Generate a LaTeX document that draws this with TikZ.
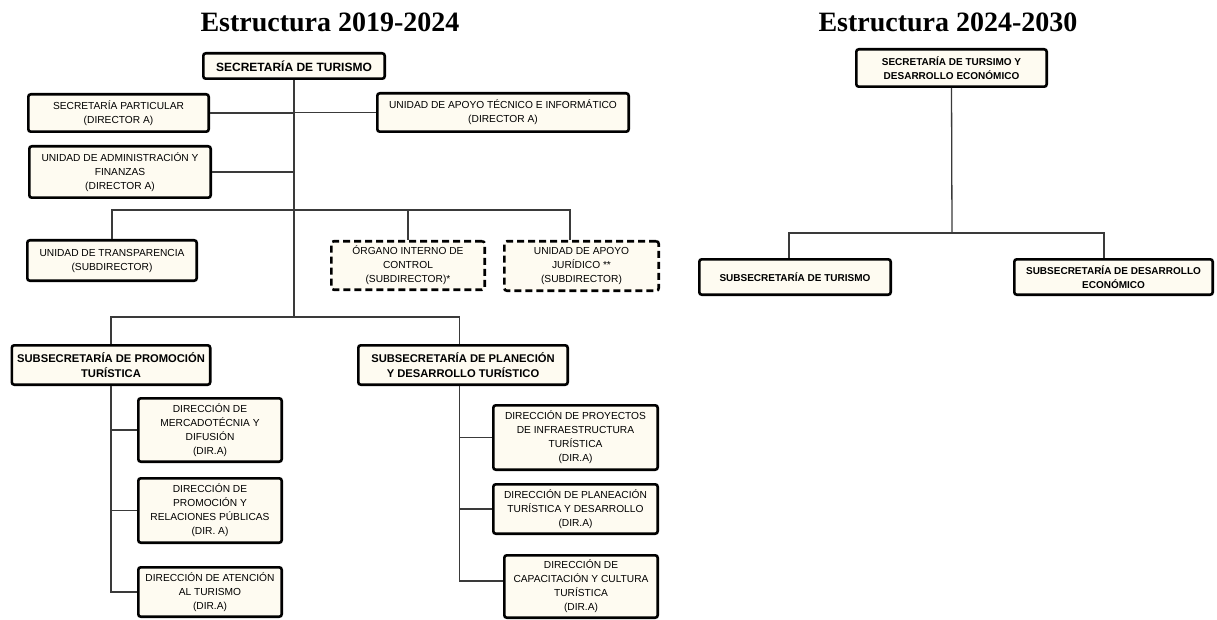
\documentclass[tikz,border=0pt]{standalone}
\usepackage{fontspec}
\setmainfont{Liberation Sans}
\newfontfamily\titlefont{Liberation Serif}
\definecolor{cream}{RGB}{254,251,241}
\definecolor{linegray}{RGB}{58,58,58}
\tikzset{
  box/.style={draw=black, line width=2.6pt, rounded corners=2.5pt, fill=cream,
    inner sep=0pt, align=center, font=\fontsize{10.2}{14}\selectfont},
  bbox/.style={box, font=\bfseries\fontsize{11.2}{15.5}\selectfont},
  rbox/.style={box, font=\bfseries\fontsize{10}{14}\selectfont},
  dbox/.style={box, dash pattern=on 7pt off 4pt},
  conn/.style={draw=linegray, line width=1.3pt},
  ttl/.style={anchor=base, inner sep=0pt, font=\titlefont\bfseries\fontsize{28}{32}\selectfont},
}
\newcommand{\bx}[6]{\node[#1, minimum width=#4pt-2.6pt, minimum height=#5pt-2.6pt] (#6) at (#2,#3)}
\begin{document}
\begin{tikzpicture}[x=1pt,y=-1pt]
\useasboundingbox (0,0) rectangle (1217,620);
% titles
\node[ttl] (title1) at (330,32) {Estructura 2019-2024};
\node[ttl] (title2) at (948,32) {Estructura 2024-2030};
% ---------- left chart ----------
\bx{box, font=\bfseries\fontsize{12}{15}\selectfont}{294}{66}{184}{28}{sec} {SECRETARÍA DE TURISMO};
\bx{box}{118.5}{113}{183}{40}{part} {SECRETARÍA PARTICULAR\\(DIRECTOR A)};
\bx{box}{503}{112.5}{254}{41}{tec} {UNIDAD DE APOYO TÉCNICO E INFORMÁTICO\\(DIRECTOR A)};
\bx{box}{120}{172}{184}{54}{adm} {UNIDAD DE ADMINISTRACIÓN Y\\FINANZAS\\(DIRECTOR A)};
\bx{box}{112}{260.5}{172}{43}{tra} {UNIDAD DE TRANSPARENCIA\\(SUBDIRECTOR)};
\bx{dbox}{408}{265.5}{156}{51}{oic} {ÓRGANO INTERNO DE\\CONTROL\\(SUBDIRECTOR)*};
\bx{dbox}{581.5}{266}{157}{52}{jur} {UNIDAD DE APOYO\\JURÍDICO **\\(SUBDIRECTOR)};
\bx{bbox}{111}{365}{201}{42}{spt} {SUBSECRETARÍA DE PROMOCIÓN\\TURÍSTICA};
\bx{bbox}{463}{365}{212}{42}{spd} {SUBSECRETARÍA DE PLANECIÓN\\Y DESARROLLO TURÍSTICO};
\bx{box}{210}{430}{146}{66}{dm} {DIRECCIÓN DE\\MERCADOTÉCNIA Y\\DIFUSIÓN\\(DIR.A)};
\bx{box}{210}{510.5}{146}{67}{dp} {DIRECCIÓN DE\\PROMOCIÓN Y\\RELACIONES PÚBLICAS\\(DIR. A)};
\bx{box}{210}{592}{146}{52}{da} {DIRECCIÓN DE ATENCIÓN\\AL TURISMO\\(DIR.A)};
\bx{box}{575.5}{437.5}{167}{67}{dpi} {DIRECCIÓN DE PROYECTOS\\DE INFRAESTRUCTURA\\TURÍSTICA\\(DIR.A)};
\bx{box}{575.5}{509}{167}{52}{dpl} {DIRECCIÓN DE PLANEACIÓN\\TURÍSTICA Y DESARROLLO\\(DIR.A)};
\bx{box}{581}{586.5}{156}{65}{dc} {DIRECCIÓN DE\\CAPACITACIÓN Y CULTURA\\TURÍSTICA\\(DIR.A)};
% junction coordinates
\coordinate (jmid) at (294,210);
\coordinate (jlow) at (294,317);
\coordinate (xjur) at (570,0);
\coordinate (xspd) at (459.5,0);
\coordinate (ydc) at (0,581);
% connectors
\draw[conn] (sec.south) -- (jlow);
\draw[conn] (part.east) -- (part.east -| sec.south);
\draw[conn] (tec.west) -- (tec.west -| sec.south);
\draw[conn] (adm.east) -- (adm.east -| sec.south);
\draw[conn] (tra.north) |- (jmid) -| (oic.north);
\draw[conn] (jmid) -| (jur.north -| xjur);
\draw[conn] (spt.north) |- (jlow) -| (spd.north -| xspd);
\draw[conn] (spt.south) |- (da.west);
\draw[conn] (spt.south |- dm.west) -- (dm.west);
\draw[conn] (spt.south |- dp.west) -- (dp.west);
\draw[conn] (spd.south -| xspd) |- (dc.west |- ydc);
\draw[conn] (xspd |- dpi.west) -- (dpi.west);
\draw[conn] (xspd |- dpl.west) -- (dpl.west);
% ---------- right chart ----------
\bx{rbox}{951.5}{68}{193}{40}{rsec} {SECRETARÍA DE TURSIMO Y\\DESARROLLO ECONÓMICO};
\bx{rbox}{795}{277}{194}{38}{rst} {SUBSECRETARÍA DE TURISMO};
\bx{rbox}{1113.5}{277}{201}{38}{rsd} {SUBSECRETARÍA DE DESARROLLO\\ECONÓMICO};
\coordinate (rj) at (952,233);
\coordinate (xrl) at (789,0);
\coordinate (xrr) at (1104,0);
\draw[conn] (rsec.south) -- (rj);
\draw[conn] (rst.north -| xrl) |- (rj) -| (rsd.north -| xrr);
\end{tikzpicture}
\end{document}
